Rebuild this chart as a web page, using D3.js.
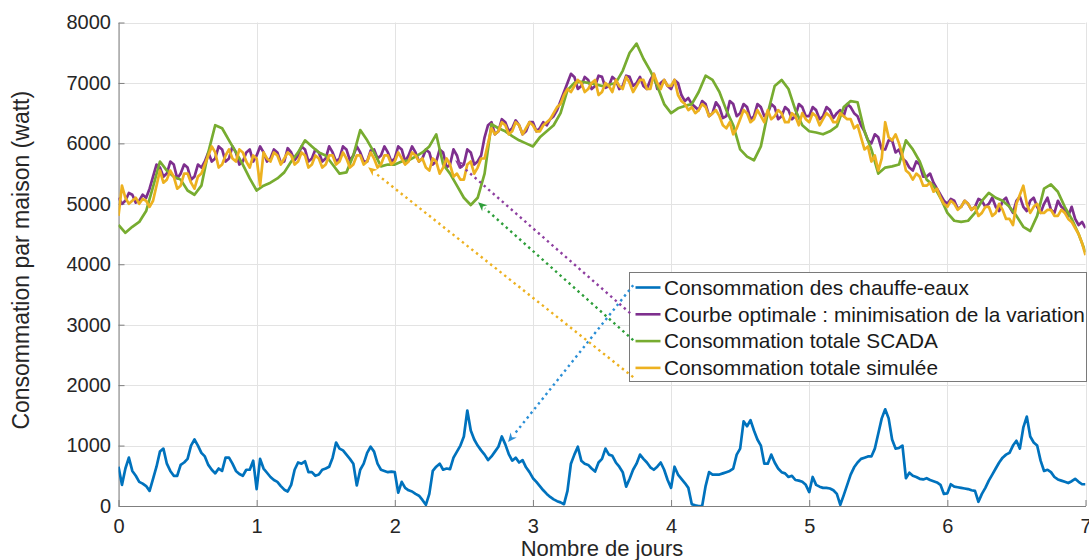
<!DOCTYPE html>
<html>
<head>
<meta charset="utf-8">
<script src="https://cdn.jsdelivr.net/npm/d3@7"></script>
<style>
  html, body { margin: 0; padding: 0; background: #fff; }
  svg { display: block; font-family: "Liberation Sans", Arial, Helvetica, sans-serif; }
</style>
</head>
<body>
<svg id="chart" width="1089" height="560"></svg>
<script>
// Series sampled on a regular grid over 7 days
// (water heaters, optimal and simulated every 0.025 day; SCADA every 0.05 day)
const chauffeEaux = [
  650,350,620,800,580,500,400,370,330,250, 450,650,900,950,700,580,500,500,680,720,
  780,1000,1100,1000,880,820,680,600,540,620, 580,800,800,700,580,530,500,600,600,750,
  280,780,620,550,480,430,400,330,270,240, 350,600,720,700,740,560,560,500,520,600,
  620,650,800,1050,950,920,850,780,700,340, 600,700,880,980,900,700,600,580,560,570,
  560,220,400,300,260,240,200,170,100,20, 200,580,650,700,600,620,610,800,900,1000,
  1150,1580,1250,1100,1000,920,850,760,820,900, 980,1150,1020,860,750,800,720,760,640,560,
  460,400,330,260,200,150,110,80,60,30, 250,700,850,980,750,700,680,620,570,720,
  780,950,850,830,720,650,560,320,450,600, 700,850,780,720,640,600,650,720,600,430,
  300,650,520,450,380,300,30,10,0,0, 330,560,520,520,520,540,560,580,620,850,
  950,1400,1320,1420,1250,1100,1000,700,700,850, 720,620,560,540,480,500,430,420,400,350,
  230,480,350,320,300,300,290,260,200,20, 180,350,520,640,720,780,800,820,820,950,
  1200,1450,1600,1450,1100,950,960,1000,460,550, 500,480,450,440,460,430,410,390,350,200,
  210,360,320,310,300,290,280,260,250,70, 200,300,420,520,620,720,800,850,880,1000,
  1080,950,1300,1480,1150,1050,1000,750,580,600, 560,480,440,420,400,380,410,450,400,360,
  360
];

const courbeOptimale = [
  5100,5000,5050,5180,5150,5020,5050,5150,5100,5250, 5450,5650,5600,5450,5500,5700,5650,5420,5500,5650,
  5600,5400,5450,5650,5600,5700,5850,5700,5750,5950, 5900,5700,5750,5950,5850,5650,5700,5850,5900,5700,
  5800,5950,5850,5700,5750,5900,5850,5680,5700,5920, 5850,5720,5800,5950,5900,5700,5750,5900,5850,5700,
  5750,5950,5850,5700,5750,5950,5900,5720,5800,5950, 5850,5700,5700,5880,5900,5750,5800,5950,5850,5700,
  5750,5950,5900,5700,5800,5950,5850,5700,5750,5900, 5850,5650,5700,5900,5850,5600,5650,5900,5800,5600,
  5650,5900,5850,5650,5700,5800,6100,6300,6350,6150, 6200,6400,6350,6200,6250,6380,6300,6150,6200,6350,
  6350,6200,6250,6350,6300,6400,6450,6550,6700,6850, 7000,7150,7100,6900,6950,7100,7050,6900,6950,7120,
  7100,6920,6950,7100,7050,6900,6950,7120,7100,6950, 7000,7100,6950,6900,7050,7150,6900,7000,7050,6950,
  6900,7050,7000,6800,6700,6750,6650,6600,6550,6700, 6650,6450,6500,6680,6600,6420,6450,6700,6650,6450,
  6500,6650,6600,6400,6450,6650,6600,6450,6500,6650, 6600,6400,6450,6600,6550,6400,6450,6650,6600,6450,
  6450,6600,6550,6400,6450,6600,6550,6420,6500,6550, 6450,6650,6600,6500,6450,6300,6200,6050,6000,6150,
  6100,5900,5900,6050,6050,5850,5900,5750,5700,5600, 5550,5700,5650,5450,5450,5500,5350,5250,5150,5050,
  5000,5080,5050,4920,4950,5050,5000,4900,4950,5080, 5050,4950,5000,5100,4950,4880,5050,5100,4950,4850,
  5050,5120,4950,4880,5050,5100,4950,4850,5000,5100, 4900,4850,5050,4950,4900,4800,4950,4750,4650,4700,
  4600
];

const totalScada = [
  4650,4520,4620,4700,4880,5280,5700,5550,5450,5400,5220,5150,5300,5850,6300,6250,6050,5850,5650,5420,
  5220,5300,5350,5420,5520,5700,5850,6050,5950,5850,5800,5650,5500,5520,5800,6220,6050,5850,5620,5650,
  5650,5700,5720,5780,5850,5950,6150,5650,5500,5300,5100,4980,5100,5500,6320,6250,6200,6120,6050,6000,
  5950,6100,6200,6300,6500,6880,7000,7020,7000,6980,6950,6970,7000,7200,7500,7650,7400,7200,6950,6650,
  6500,6580,6620,6650,6850,7120,7050,6850,6550,6300,5900,5780,5720,5950,6500,6950,7050,6900,6550,6300,
  6200,6180,6150,6200,6280,6600,6700,6680,6200,5900,5500,5600,5620,5650,6050,5900,5700,5400,5300,5100,
  4850,4720,4700,4720,4850,5050,5180,5100,5050,4950,4800,4620,4550,4800,5250,5320,5200,4950,4750,4500,
  4200
];

const totalSimulee = [
  4800,5300,5100,5000,5050,5100,5000,5080,5050,4950, 5050,5300,5550,5350,5400,5550,5450,5250,5300,5500,
  5500,5350,5250,5450,5500,5650,5800,5950,5850,5600, 5650,5800,5900,5750,5700,5900,5850,5700,5600,5800,
  5750,5300,5850,5750,5700,5850,5800,5650,5750,5850, 5800,5650,5700,5850,5800,5600,5650,5800,5750,5600,
  5650,5800,5800,5650,5700,5850,5750,5600,5650,5800, 5800,5650,5700,5850,5750,5600,5650,5800,5800,5650,
  5700,5850,5750,5650,5700,5850,5800,5700,5750,5600, 5550,5750,5700,5500,5600,5750,5650,5450,5500,5400,
  5400,5650,5700,5500,5600,5750,5750,6000,6250,6150, 6200,6350,6300,6150,6200,6350,6300,6150,6250,6350,
  6300,6200,6200,6300,6350,6400,6500,6600,6650,6800, 6900,6850,6950,7050,7000,6850,6900,7000,7050,6800,
  6850,7000,6950,6850,7050,6950,6900,7100,7000,6850, 6950,7050,7050,6900,6900,7150,7000,6900,7050,6950,
  6950,7050,6800,6700,6650,6550,6600,6500,6550,6650, 6600,6450,6500,6550,6450,6300,6250,6350,6150,6250,
  6400,6550,6500,6350,6400,6550,6450,6350,6550,6400, 6450,6550,6500,6350,6350,6500,6450,6300,6500,6400,
  6350,6500,6450,6300,6400,6500,6450,6350,6350,6500, 6450,6400,6400,6250,6300,6100,5900,5950,5700,5800,
  5550,5750,6350,6100,6050,6150,6000,5800,5550,5500, 5400,5500,5450,5300,5300,5350,5200,5250,5100,5000,
  4950,5050,5000,4900,4950,5050,5000,4900,4950,4800, 4850,4950,4950,4800,4850,5000,4900,4750,4750,4650,
  5000,5150,5300,5000,4850,4950,5000,4850,4850,4900, 4900,4800,4800,4900,4850,4750,4700,4600,4500,4350,
  4150
];

const legendLabels = [
  "Consommation des chauffe-eaux",
  "Courbe optimale : minimisation de la variation",
  "Consommation totale SCADA",
  "Consommation totale simulée"
];
const seriesColors = ["#0072BD", "#7E2F8E", "#77AC30", "#EDB120"];
const arrowColors = ["#2B8FD6", "#8E3FA0", "#2E9E3A", "#EDB120"];

// Annotation arrows: tail near the legend, head on the curve [day, watt]
const arrowTails = [[3.726, 3653], [3.704, 3190], [3.726, 2744], [3.726, 2132]];
const arrowHeads = [[2.820, 1058], [2.437, 5719], [2.603, 5025], [1.807, 5603]];

const xTicks = [0, 1, 2, 3, 4, 5, 6, 7];
const yTicks = [0, 1000, 2000, 3000, 4000, 5000, 6000, 7000, 8000];
const xLabel = "Nombre de jours";
const yLabel = "Consommation par maison (watt)";

// ---- layout ----
const plot = { left: 118.5, right: 1085.5, top: 22.5, bottom: 506 };
const svg = d3.select("#chart");

const x = d3.scaleLinear().domain([0, 7]).range([plot.left, plot.right]);
const y = d3.scaleLinear().domain([0, 8000]).range([plot.bottom, plot.top]);

// grid
const grid = svg.append("g").attr("stroke", "#e3e3e3").attr("stroke-width", 1);
grid.selectAll("line.gx").data(xTicks).join("line")
  .attr("x1", d => Math.round(x(d)) + 0.5).attr("x2", d => Math.round(x(d)) + 0.5)
  .attr("y1", plot.top).attr("y2", plot.bottom);
grid.selectAll("line.gy").data(yTicks).join("line")
  .attr("y1", d => Math.round(y(d)) + 0.5).attr("y2", d => Math.round(y(d)) + 0.5)
  .attr("x1", plot.left).attr("x2", plot.right);

// axes with inward ticks
const xAxis = d3.axisBottom(x).tickValues(xTicks).tickFormat(d3.format("d"))
  .tickSizeInner(-6).tickSizeOuter(0).tickPadding(13);
const yAxis = d3.axisLeft(y).tickValues(yTicks).tickFormat(d3.format("d"))
  .tickSizeInner(-6).tickSizeOuter(0).tickPadding(7.5);

function styleAxis(g) {
  g.attr("font-family", null).attr("font-size", null);
  g.select(".domain").attr("stroke", "#7f7f7f").attr("stroke-width", 1);
  g.selectAll(".tick line").attr("stroke", "#7f7f7f");
  g.selectAll(".tick text").attr("fill", "#262626").style("font-size", "20px");
}
svg.append("g").attr("transform", `translate(0,${plot.bottom})`).call(xAxis).call(styleAxis);
svg.append("g").attr("transform", `translate(${plot.left},0)`).call(yAxis).call(styleAxis);

svg.append("text").attr("x", (plot.left + plot.right) / 2).attr("y", 556)
  .attr("text-anchor", "middle").attr("fill", "#262626").style("font-size", "22px").text(xLabel);
svg.append("text").attr("transform", `translate(29,${(plot.top + plot.bottom) / 2 - 4}) rotate(-90)`)
  .attr("text-anchor", "middle").attr("fill", "#262626").style("font-size", "23px").text(yLabel);

// curves
svg.append("clipPath").attr("id", "plotClip").append("rect")
  .attr("x", plot.left).attr("y", plot.top - 2)
  .attr("width", plot.right - plot.left).attr("height", plot.bottom - plot.top + 2);

const allSeries = [chauffeEaux, courbeOptimale, totalScada, totalSimulee];
const line = d3.line().x(d => x(d[0])).y(d => y(d[1])).curve(d3.curveLinear);
const curves = svg.append("g").attr("clip-path", "url(#plotClip)");
allSeries.forEach((vals, k) => {
  const step = 7 / (vals.length - 1);
  const pts = vals.map((v, i) => [i * step, v]);
  curves.append("path").datum(pts)
    .attr("fill", "none").attr("stroke", seriesColors[k])
    .attr("stroke-width", 2.7).attr("stroke-linejoin", "round")
    .attr("d", line);
});

// legend
const lg = { x: 629.5, y: 272.5, w: 457, h: 109, row0: 15, rowStep: 26.8 };
const legend = svg.append("g");
legend.append("rect").attr("x", lg.x).attr("y", lg.y).attr("width", lg.w).attr("height", lg.h)
  .attr("fill", "#fff").attr("stroke", "#7a7a7a").attr("stroke-width", 1);
legendLabels.forEach((lab, i) => {
  const ry = lg.y + lg.row0 + i * lg.rowStep;
  legend.append("line").attr("x1", lg.x + 6).attr("x2", lg.x + 31).attr("y1", ry).attr("y2", ry)
    .attr("stroke", seriesColors[i]).attr("stroke-width", 2.6);
  legend.append("text").attr("x", lg.x + 34.5).attr("y", ry).attr("dy", "0.35em")
    .attr("fill", "#1a1a1a").style("font-size", "20.8px").text(lab);
});

// dotted annotation arrows
const arrows = svg.append("g");
arrowTails.forEach((t, i) => {
  const x0 = x(t[0]), y0 = y(t[1]);
  const x1 = x(arrowHeads[i][0]), y1 = y(arrowHeads[i][1]);
  const ang = Math.atan2(y1 - y0, x1 - x0);
  const hl = 9, hw = 4;
  const bx = x1 - hl * Math.cos(ang), by = y1 - hl * Math.sin(ang);
  arrows.append("line").attr("x1", x0).attr("y1", y0).attr("x2", bx).attr("y2", by)
    .attr("stroke", arrowColors[i]).attr("stroke-width", 2.4)
    .attr("stroke-dasharray", "2.4 3.6");
  const nx = -Math.sin(ang), ny = Math.cos(ang);
  const head = [
    [x1, y1],
    [bx + nx * hw, by + ny * hw],
    [x1 - hl * 0.7 * Math.cos(ang), y1 - hl * 0.7 * Math.sin(ang)],
    [bx - nx * hw, by - ny * hw]
  ];
  arrows.append("path").attr("d", "M" + head.map(p => p.join(",")).join("L") + "Z")
    .attr("fill", arrowColors[i]);
});
</script>
</body>
</html>
